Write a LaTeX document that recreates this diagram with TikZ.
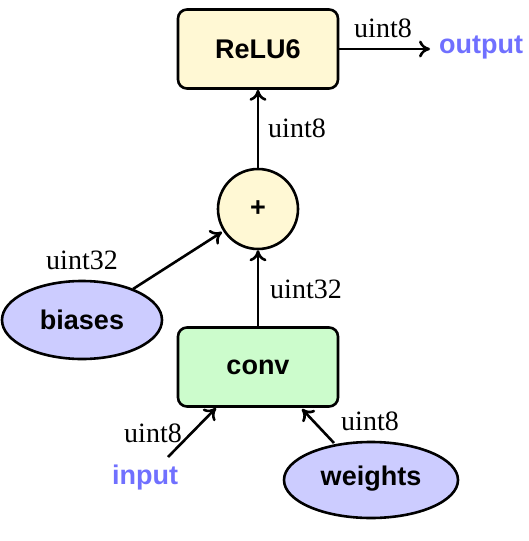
\documentclass[tikz,border=0pt]{standalone}
\usepackage{fontspec}
\setmainfont{Liberation Serif}
\newfontfamily\hfont{Liberation Sans}
\usetikzlibrary{arrows.meta}
\definecolor{yel}{HTML}{FFF8D4}
\definecolor{grn}{HTML}{CCFCCC}
\definecolor{blu}{HTML}{CCCCFF}
\definecolor{txtblue}{HTML}{7070FF}
\begin{document}
\begin{tikzpicture}[x=1pt,y=-1pt,
  box/.style={draw,line width=2.6pt,rounded corners=9pt,minimum width=160pt,minimum height=79pt,font=\hfont\bfseries\fontsize{27}{32}\selectfont},
  lab/.style={font=\fontsize{28}{32}\selectfont},
  io/.style={text=txtblue,font=\hfont\bfseries\fontsize{27}{32}\selectfont},
  arr/.style={line width=2.6pt,-{To[length=11pt,width=17pt,line width=2.6pt]}}]
\useasboundingbox (0,0) rectangle (528,541);
\node[box,fill=yel] (relu) at (258,49) {ReLU6};
\node[draw,circle,line width=2.6pt,fill=yel,minimum size=80pt,inner sep=0pt,font=\hfont\bfseries\fontsize{27}{32}\selectfont] (plus) at (258,209) {+};
\node[box,fill=grn] (conv) at (258,367) {conv};
\draw[line width=2.6pt,fill=blu] (82,320) ellipse [x radius=80, y radius=39];
\node (biases) at (82,320) {\hfont\bfseries\fontsize{27}{32}\selectfont biases};
\draw[line width=2.6pt,fill=blu] (371,480) ellipse [x radius=87, y radius=38];
\node (weights) at (371,479) {\hfont\bfseries\fontsize{27}{32}\selectfont weights};
\node[io] (output) at (481,47) {output};
\node[io] (input) at (145,478) {input};
\coordinate (outend) at (430,49);
\coordinate (bstart) at (133,289);
\coordinate (bend) at (222,232);
\coordinate (istart) at (168,457);
\coordinate (iend) at (216,408);
\coordinate (wstart) at (334,443);
\coordinate (wend) at (302,409);
\draw[arr] (relu.east) -- (outend);
\draw[arr] (plus.north) -- (relu.south);
\draw[arr] (conv.north) -- (plus.south);
\draw[arr] (bstart) -- (bend);
\draw[arr] (istart) -- (iend);
\draw[arr] (wstart) -- (wend);
\node[lab] at (383,28) {uint8};
\node[lab] at (297,128) {uint8};
\node[lab] at (82,260) {uint32};
\node[lab] at (306,289) {uint32};
\node[lab] at (153,433) {uint8};
\node[lab] at (370,421) {uint8};
\end{tikzpicture}
\end{document}
